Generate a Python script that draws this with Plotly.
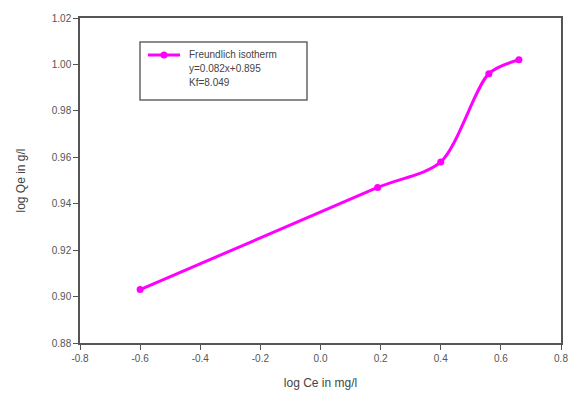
import plotly.graph_objects as go

log_ce = [-0.6, 0.19, 0.40, 0.56, 0.66]
log_qe = [0.903, 0.947, 0.958, 0.996, 1.002]
x_ticks = [-0.8, -0.6, -0.4, -0.2, 0.0, 0.2, 0.4, 0.6, 0.8]
y_ticks = [0.88, 0.90, 0.92, 0.94, 0.96, 0.98, 1.00, 1.02]
legend_lines = ["Freundlich isotherm", "y=0.082x+0.895", "Kf=8.049"]

color = "#ff00ff"
fig = go.Figure()
fig.add_trace(go.Scatter(
    x=log_ce, y=log_qe, mode="lines+markers",
    line=dict(color=color, width=3, shape="spline", smoothing=0.8),
    marker=dict(color=color, size=7, symbol="circle"),
    showlegend=False, cliponaxis=False,
))

axis_common = dict(
    showline=True, linecolor="#555", linewidth=1.5, mirror=True,
    ticks="outside", ticklen=5, tickcolor="#555",
    showgrid=False, zeroline=False, automargin=False,
    tickfont=dict(family="Liberation Sans, Arial", size=10, color="#555"),
)
fig.update_xaxes(range=[-0.8, 0.8], tickvals=x_ticks,
                 ticktext=[f"{v:.1f}" for v in x_ticks],
                 title=dict(text="log Ce in mg/l", standoff=16,
                            font=dict(family="Liberation Sans, Arial", size=12, color="#444")),
                 **axis_common)
fig.update_yaxes(range=[0.88, 1.02], tickvals=y_ticks,
                 ticktext=[f"{v:.2f}" for v in y_ticks],
                 title=dict(text="log Qe in g/l", standoff=24,
                            font=dict(family="Liberation Sans, Arial", size=12, color="#444")),
                 **axis_common)

# Legend box (drawn manually)
W, H = 569, 394
ml, mr, mt, mb = 80, 8, 18, 51
pw, ph = W - ml - mr, H - mt - mb
def px(x): return (x - ml) / pw
def py(y): return 1 - (y - mt) / ph

fig.add_shape(type="rect", xref="paper", yref="paper",
              x0=px(140), x1=px(307), y0=py(100), y1=py(42),
              line=dict(color="#666", width=1.5), fillcolor="white")
fig.add_shape(type="line", xref="paper", yref="paper",
              x0=px(148), x1=px(180), y0=py(55), y1=py(55),
              line=dict(color=color, width=3))
fig.add_shape(type="circle", xref="paper", yref="paper",
              x0=px(160.5), x1=px(167.5), y0=py(58.5), y1=py(51.5),
              line=dict(color=color, width=0), fillcolor=color)
for i, t in enumerate(legend_lines):
    fig.add_annotation(xref="paper", yref="paper", x=px(187), y=py(55 + 13.5 * i),
                       text=t, showarrow=False, xanchor="left", yanchor="middle",
                       font=dict(family="Liberation Sans, Arial", size=10, color="#444"))

fig.update_layout(
    width=W, height=H,
    margin=dict(l=ml, r=mr, t=mt, b=mb, autoexpand=False),
    paper_bgcolor="white", plot_bgcolor="white",
)
fig.write_html("out.html")
